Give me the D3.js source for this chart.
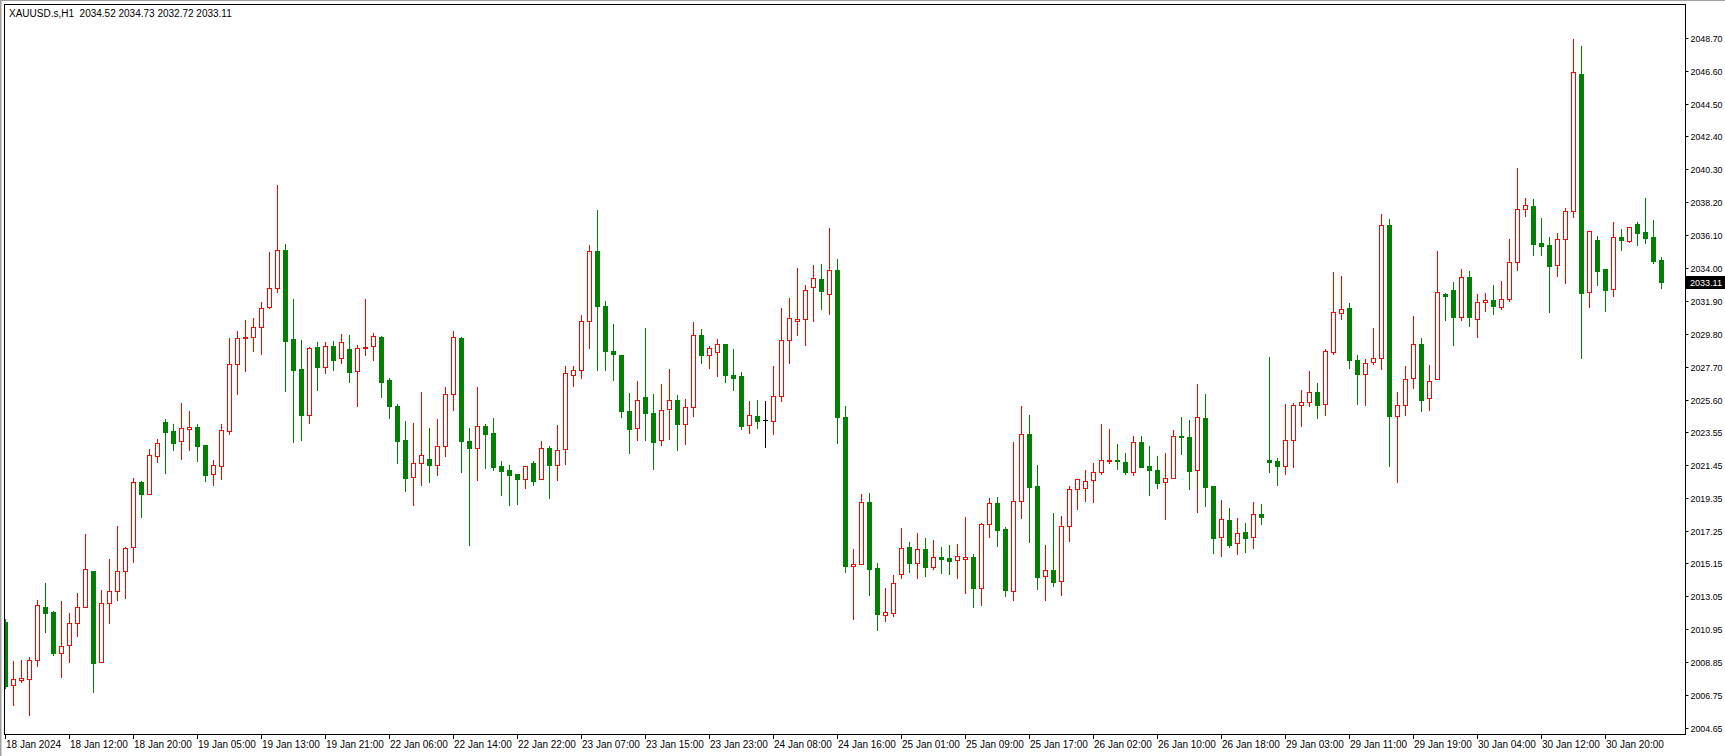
<!DOCTYPE html>
<html>
<head>
<meta charset="utf-8">
<script src="https://cdn.jsdelivr.net/npm/d3@7"></script>
<style>
  html, body { margin: 0; padding: 0; background: #fff; }
  svg { display: block; }
  .axis text { font-family: "Liberation Sans", Arial, sans-serif; font-size: 10px; fill: #000; }
  .axis.price text { font-size: 9.5px; }
</style>
</head>
<body>
<svg id="chart" width="1725" height="756"></svg>
<script>
// XAUUSD.s H1, one entry per bar, oldest first (18 Jan 04:00 .. 31 Jan 03:00)
const opens = [
  2011.41, 2007.37, 2007.73, 2007.79, 2008.97, 2012.35, 2012.03, 2009.41, 2009.92, 2011.33,
  2012.35, 2014.66, 2008.84, 2012.60, 2013.37, 2014.64, 2016.18, 2020.35, 2019.56, 2021.99,
  2024.15, 2023.58, 2022.94, 2023.75, 2023.84, 2022.71, 2020.84, 2021.35, 2023.58, 2027.86,
  2029.53, 2029.58, 2030.22, 2031.49, 2032.71, 2035.15, 2029.47, 2027.56, 2024.64, 2028.96,
  2027.70, 2029.03, 2028.24, 2028.83, 2027.41, 2028.88, 2029.01, 2029.60, 2026.85, 2025.19,
  2023.03, 2020.64, 2021.54, 2021.81, 2021.41, 2022.62, 2025.94, 2029.51, 2022.94, 2022.50,
  2023.92, 2023.47, 2021.37, 2021.11, 2020.85, 2020.56, 2021.56, 2020.52, 2022.50, 2021.41,
  2022.43, 2027.16, 2027.47, 2030.60, 2035.10, 2031.60, 2028.70, 2028.45, 2024.88, 2023.77,
  2025.75, 2024.73, 2023.01, 2024.98, 2025.56, 2024.07, 2025.11, 2029.71, 2028.43, 2028.62,
  2029.15, 2027.18, 2027.11, 2023.96, 2024.56, 2024.28, 2024.22, 2025.81, 2029.39, 2030.64,
  2030.73, 2032.77, 2033.28, 2032.32, 2033.87, 2024.49, 2015.00, 2015.09, 2019.05, 2014.86,
  2011.88, 2012.00, 2014.49, 2016.18, 2015.20, 2016.07, 2014.94, 2015.56, 2015.50, 2015.35,
  2015.45, 2015.54, 2013.56, 2017.64, 2018.99, 2017.33, 2013.37, 2019.11, 2023.39, 2020.09,
  2014.33, 2014.71, 2014.01, 2017.52, 2019.88, 2019.94, 2020.45, 2020.96, 2021.67, 2021.75,
  2021.60, 2020.96, 2022.88, 2021.37, 2021.09, 2020.33, 2020.58, 2023.30, 2023.20, 2021.09,
  2024.43, 2020.09, 2016.81, 2017.92, 2016.43, 2017.14, 2016.81, 2018.28, 2021.75, 2021.69,
  2021.35, 2023.05, 2025.24, 2025.43, 2026.07, 2025.30, 2028.62, 2031.11, 2031.43, 2028.11,
  2027.26, 2027.98, 2028.24, 2036.73, 2024.54, 2025.24, 2026.96, 2029.15, 2025.69, 2026.90,
  2032.36, 2032.60, 2030.89, 2033.41, 2030.73, 2031.82, 2031.96, 2031.53, 2032.00, 2034.37,
  2037.77, 2037.96, 2035.62, 2035.47, 2034.17, 2035.83, 2037.62, 2046.38, 2032.45, 2035.79,
  2033.94, 2032.64, 2035.98, 2035.74, 2036.79, 2036.28, 2035.96, 2034.52
];
const highs = [
  2011.60, 2008.92, 2008.99, 2009.18, 2012.81, 2013.90, 2012.13, 2012.75, 2011.99, 2013.26,
  2017.03, 2014.66, 2013.45, 2015.43, 2017.54, 2016.19, 2020.60, 2020.41, 2022.45, 2023.09,
  2024.36, 2024.05, 2025.39, 2024.88, 2024.05, 2022.71, 2021.75, 2024.05, 2029.53, 2029.98,
  2030.68, 2030.79, 2031.83, 2035.02, 2039.30, 2035.55, 2032.02, 2029.41, 2028.98, 2029.28,
  2029.28, 2029.34, 2029.79, 2029.73, 2029.07, 2032.02, 2029.85, 2029.66, 2026.98, 2025.32,
  2024.24, 2024.11, 2026.09, 2023.79, 2024.36, 2026.41, 2029.98, 2029.58, 2023.79, 2026.41,
  2024.05, 2024.43, 2021.69, 2021.43, 2020.85, 2021.35, 2021.69, 2022.94, 2022.64, 2023.98,
  2027.75, 2027.73, 2031.00, 2035.50, 2037.70, 2031.90, 2030.43, 2028.45, 2026.03, 2026.79,
  2030.17, 2025.96, 2026.60, 2027.54, 2025.90, 2025.64, 2030.54, 2030.11, 2029.03, 2029.47,
  2029.15, 2028.83, 2027.35, 2025.51, 2025.58, 2025.51, 2027.75, 2031.45, 2032.09, 2034.00,
  2032.92, 2034.19, 2034.26, 2036.56, 2034.58, 2025.19, 2016.07, 2019.58, 2019.64, 2015.18,
  2013.60, 2014.41, 2017.41, 2016.52, 2017.09, 2016.77, 2016.64, 2016.20, 2016.33, 2016.39,
  2018.11, 2015.75, 2017.73, 2019.32, 2019.39, 2017.45, 2022.90, 2025.19, 2024.62, 2021.43,
  2016.31, 2018.35, 2018.17, 2020.07, 2020.52, 2021.11, 2021.54, 2024.05, 2023.73, 2022.77,
  2022.20, 2023.28, 2023.28, 2022.64, 2021.98, 2022.20, 2023.66, 2024.49, 2024.30, 2026.60,
  2025.96, 2020.09, 2019.20, 2018.69, 2018.05, 2017.73, 2019.07, 2018.94, 2028.30, 2021.88,
  2025.32, 2025.39, 2026.22, 2027.43, 2026.66, 2028.83, 2033.73, 2033.49, 2031.75, 2028.43,
  2028.18, 2030.15, 2037.45, 2037.13, 2026.09, 2027.77, 2030.94, 2029.53, 2027.81, 2035.09,
  2032.41, 2033.11, 2033.94, 2033.81, 2032.34, 2032.41, 2032.92, 2033.17, 2035.85, 2040.38,
  2038.50, 2038.40, 2037.21, 2035.98, 2036.24, 2037.81, 2048.60, 2048.17, 2036.36, 2036.04,
  2033.94, 2036.96, 2036.49, 2036.62, 2036.96, 2038.49, 2037.07, 2034.73
];
const lows = [
  2007.22, 2006.13, 2007.60, 2005.50, 2008.62, 2010.79, 2009.32, 2007.92, 2008.88, 2010.54,
  2012.35, 2006.96, 2008.84, 2011.37, 2012.83, 2012.96, 2015.26, 2018.13, 2019.56, 2021.64,
  2020.94, 2022.41, 2021.83, 2022.41, 2021.70, 2020.43, 2020.17, 2020.55, 2023.39, 2025.96,
  2027.45, 2028.72, 2028.53, 2031.43, 2032.49, 2026.15, 2022.92, 2023.04, 2024.13, 2026.23,
  2027.32, 2027.51, 2027.96, 2026.75, 2025.21, 2028.47, 2028.15, 2025.79, 2024.45, 2021.58,
  2019.79, 2018.90, 2020.17, 2020.36, 2020.81, 2022.02, 2024.96, 2021.00, 2016.35, 2020.49,
  2021.26, 2021.13, 2019.53, 2018.90, 2018.96, 2019.98, 2020.17, 2020.52, 2019.34, 2020.49,
  2021.51, 2026.49, 2027.00, 2028.92, 2027.51, 2027.51, 2026.87, 2024.51, 2022.21, 2023.05,
  2023.05, 2021.19, 2022.73, 2023.11, 2022.41, 2022.79, 2024.58, 2027.96, 2027.64, 2027.13,
  2026.75, 2026.23, 2023.75, 2023.49, 2023.81, 2022.60, 2023.43, 2025.53, 2027.96, 2029.74,
  2029.11, 2030.64, 2031.41, 2031.09, 2022.85, 2014.62, 2011.62, 2015.09, 2013.13, 2010.90,
  2011.47, 2011.79, 2014.22, 2014.60, 2014.24, 2014.37, 2014.81, 2014.56, 2014.49, 2014.24,
  2013.28, 2012.39, 2012.52, 2016.85, 2016.28, 2013.09, 2012.83, 2018.07, 2016.53, 2013.54,
  2012.83, 2013.73, 2013.15, 2016.60, 2018.64, 2019.15, 2019.09, 2020.84, 2021.54, 2021.16,
  2020.86, 2020.81, 2021.32, 2019.53, 2019.98, 2018.00, 2020.58, 2022.15, 2019.92, 2018.45,
  2018.83, 2015.83, 2015.64, 2016.22, 2015.77, 2015.90, 2016.15, 2017.68, 2021.00, 2020.15,
  2020.87, 2021.32, 2023.94, 2025.21, 2024.45, 2024.64, 2028.53, 2030.77, 2027.64, 2025.34,
  2025.28, 2027.89, 2027.58, 2021.39, 2020.33, 2024.62, 2026.36, 2024.88, 2024.96, 2026.90,
  2030.70, 2029.11, 2030.70, 2030.32, 2029.62, 2031.28, 2031.09, 2031.41, 2031.92, 2033.89,
  2037.30, 2034.85, 2034.85, 2031.21, 2033.47, 2033.06, 2037.24, 2028.28, 2031.53, 2032.92,
  2031.28, 2032.20, 2035.17, 2035.68, 2035.47, 2035.62, 2034.34, 2032.72
];
const closes = [
  2007.35, 2007.75, 2007.84, 2008.97, 2012.48, 2012.00, 2009.45, 2009.86, 2011.33, 2012.35,
  2014.77, 2008.81, 2012.60, 2013.37, 2014.64, 2016.11, 2020.35, 2019.56, 2022.05, 2022.82,
  2023.55, 2022.86, 2023.77, 2023.84, 2022.66, 2020.81, 2021.41, 2023.64, 2027.86, 2029.51,
  2029.58, 2030.22, 2031.43, 2032.71, 2035.13, 2029.36, 2027.51, 2024.64, 2028.90, 2027.70,
  2029.03, 2028.15, 2029.26, 2027.38, 2028.90, 2028.96, 2029.64, 2026.75, 2025.21, 2022.98,
  2020.62, 2021.54, 2022.05, 2021.45, 2022.62, 2025.94, 2029.58, 2022.98, 2022.50, 2023.90,
  2023.43, 2021.32, 2021.07, 2020.81, 2020.56, 2021.35, 2020.43, 2022.50, 2021.45, 2022.37,
  2027.28, 2027.47, 2030.60, 2035.10, 2031.60, 2028.72, 2028.53, 2024.89, 2023.75, 2025.56,
  2024.77, 2022.92, 2024.92, 2025.56, 2024.07, 2025.11, 2029.71, 2028.47, 2028.88, 2029.13,
  2027.19, 2027.00, 2023.94, 2024.60, 2024.26, 2024.28, 2025.81, 2029.39, 2030.79, 2030.75,
  2032.58, 2033.35, 2032.52, 2033.86, 2024.47, 2015.00, 2015.09, 2019.05, 2014.81, 2011.94,
  2012.03, 2013.88, 2016.11, 2015.20, 2016.05, 2014.94, 2015.54, 2015.45, 2015.32, 2015.60,
  2015.54, 2013.56, 2017.64, 2018.99, 2017.30, 2013.47, 2019.11, 2023.39, 2020.05, 2014.30,
  2014.71, 2013.98, 2017.52, 2019.88, 2020.52, 2020.39, 2020.96, 2021.73, 2021.75, 2021.67,
  2020.96, 2022.88, 2021.32, 2021.13, 2020.30, 2020.58, 2023.26, 2023.22, 2021.07, 2024.47,
  2020.05, 2016.79, 2017.98, 2016.35, 2017.07, 2016.79, 2018.28, 2018.13, 2021.64, 2021.39,
  2023.01, 2025.24, 2025.43, 2026.07, 2025.28, 2028.69, 2031.17, 2031.37, 2028.15, 2027.26,
  2027.96, 2028.24, 2036.73, 2024.54, 2025.24, 2026.92, 2029.13, 2025.60, 2026.77, 2032.45,
  2032.23, 2030.89, 2033.41, 2030.89, 2031.82, 2031.94, 2031.60, 2032.00, 2034.37, 2037.77,
  2038.00, 2035.55, 2035.42, 2034.15, 2035.83, 2037.62, 2046.49, 2032.43, 2036.36, 2033.83,
  2032.62, 2035.96, 2035.81, 2036.62, 2036.26, 2035.94, 2034.47, 2033.11
];

const priceTicks = [
  "2048.70", "2046.60", "2044.50", "2042.40", "2040.30", "2038.20", "2036.10", "2034.00",
  "2031.90", "2029.80", "2027.70", "2025.60", "2023.55", "2021.45", "2019.35", "2017.25",
  "2015.15", "2013.05", "2010.95", "2008.85", "2006.75", "2004.65"
];
// one label every 8 bars, starting at the first bar
const timeLabels = [
  "18 Jan 2024", "18 Jan 12:00", "18 Jan 20:00", "19 Jan 05:00", "19 Jan 13:00", "19 Jan 21:00",
  "22 Jan 06:00", "22 Jan 14:00", "22 Jan 22:00", "23 Jan 07:00", "23 Jan 15:00", "23 Jan 23:00",
  "24 Jan 08:00", "24 Jan 16:00", "25 Jan 01:00", "25 Jan 09:00", "25 Jan 17:00", "26 Jan 02:00",
  "26 Jan 10:00", "26 Jan 18:00", "29 Jan 03:00", "29 Jan 11:00", "29 Jan 19:00", "30 Jan 04:00",
  "30 Jan 12:00", "30 Jan 20:00"
];
const labelStep = 8;
const symbolTitle = "XAUUSD.s,H1";

const W = 1725, H = 756;
const plot = { left: 4, top: 4, right: 1685, bottom: 734 };
const barPitch = 8;
const priceLabelWidth = 32;

const svg = d3.select("#chart");

let bars = opens.map(function(o, i) {
  return { i: i, o: o, h: highs[i], l: lows[i], c: closes[i] };
});

// window frame
svg.append("rect").attr("x", 0).attr("y", 0).attr("width", W).attr("height", H).attr("fill", "#fff");
svg.append("line").attr("x1", 0.5).attr("x2", 0.5).attr("y1", 0).attr("y2", H)
  .attr("stroke", "#a0a0a0").attr("stroke-width", 2);
svg.append("line").attr("x1", 0).attr("x2", W).attr("y1", 0.5).attr("y2", 0.5)
  .attr("stroke", "#a0a0a0");

let x = d3.scaleBand()
  .domain(bars.map(d => d.i))
  .range([1.3, 1.3 + barPitch * bars.length]);

let y = d3.scaleLinear()
  .domain([2004.65, 2048.70])
  .range([728.0, 37.7]);

function cx(i) {
  return Math.round(x(i) + x.bandwidth() / 2);
}

svg.append("clipPath").attr("id", "plotclip")
  .append("rect")
  .attr("x", plot.left + 1).attr("y", plot.top + 1)
  .attr("width", plot.right - plot.left - 1)
  .attr("height", plot.bottom - plot.top - 1);

let g = svg.append("g").attr("clip-path", "url(#plotclip)");

function colorOf(d) {
  if (d.c > d.o) return "#ff0000";
  if (d.c < d.o) return "#008000";
  return "#000000";
}

// wicks
g.selectAll("line.wick")
  .data(bars)
  .enter()
  .append("line")
  .attr("class", "wick")
  .attr("x1", d => cx(d.i) + 0.5)
  .attr("x2", d => cx(d.i) + 0.5)
  .attr("y1", d => Math.round(y(d.h)))
  .attr("y2", d => Math.round(y(d.l)) + 1)
  .attr("stroke", colorOf)
  .attr("stroke-width", 1);

// bodies
g.selectAll("rect.body")
  .data(bars)
  .enter()
  .append("rect")
  .attr("class", "body")
  .attr("x", function(d) {
    return d.c > d.o ? cx(d.i) - 1.5 : cx(d.i) - 2;
  })
  .attr("y", function(d) {
    let top = Math.round(y(Math.max(d.o, d.c)));
    return d.c > d.o ? top + 0.5 : top;
  })
  .attr("width", d => (d.c > d.o ? 4 : 5))
  .attr("height", function(d) {
    let top = Math.round(y(Math.max(d.o, d.c)));
    let bot = Math.round(y(Math.min(d.o, d.c)));
    if (d.c > d.o) return Math.max(bot - top, 1);
    return Math.max(bot - top + 1, 1);
  })
  .attr("fill", d => (d.c > d.o ? "#fff" : d.c < d.o ? "#008000" : "none"))
  .attr("stroke", d => (d.c > d.o ? "#ff0000" : "none"))
  .attr("stroke-width", 1);

// dojis: short horizontal dash
g.selectAll("line.doji")
  .data(bars.filter(d => d.c === d.o))
  .enter()
  .append("line")
  .attr("class", "doji")
  .attr("x1", d => cx(d.i) - 2)
  .attr("x2", d => cx(d.i) + 3)
  .attr("y1", d => Math.round(y(d.c)) + 0.5)
  .attr("y2", d => Math.round(y(d.c)) + 0.5)
  .attr("stroke", "#000");

// plot border
svg.append("rect")
  .attr("x", plot.left + 0.5).attr("y", plot.top + 0.5)
  .attr("width", plot.right - plot.left)
  .attr("height", plot.bottom - plot.top)
  .attr("fill", "none")
  .attr("stroke", "#000");

// price axis on the right
let yAxis = d3.axisRight(y)
  .tickValues(priceTicks.map(Number))
  .tickFormat((v, i) => priceTicks[i])
  .tickSize(3)
  .tickPadding(2);

let ya = svg.append("g")
  .attr("class", "axis price")
  .attr("transform", "translate(" + (plot.right + 0.5) + ",0)")
  .call(yAxis);
ya.select(".domain").remove();
ya.selectAll(".tick line").attr("stroke", "#000");
ya.selectAll(".tick").attr("transform", function(v) {
  return "translate(0," + (Math.round(y(v)) + 0.5) + ")";
});
ya.selectAll(".tick text")
  .attr("textLength", priceLabelWidth)
  .attr("lengthAdjust", "spacingAndGlyphs");

// last price marker
let last = bars[bars.length - 1];
let ly = Math.round(y(last.c));
svg.append("rect")
  .attr("x", plot.right + 1).attr("y", ly - 6)
  .attr("width", W - plot.right - 1).attr("height", 13)
  .attr("fill", "#000");
svg.append("text")
  .attr("x", plot.right + 5).attr("y", ly + 4)
  .style("font-family", "Liberation Sans, Arial, sans-serif")
  .style("font-size", "9.5px")
  .attr("textLength", priceLabelWidth)
  .attr("lengthAdjust", "spacingAndGlyphs")
  .attr("fill", "#fff")
  .text(last.c.toFixed(2));

// time axis
let xt = svg.append("g").attr("class", "axis");
let tickIdx = timeLabels.map((t, k) => k * labelStep);
xt.selectAll("line")
  .data(tickIdx)
  .enter()
  .append("line")
  .attr("x1", d => cx(d) + 0.5)
  .attr("x2", d => cx(d) + 0.5)
  .attr("y1", plot.bottom + 1)
  .attr("y2", plot.bottom + 5)
  .attr("stroke", "#000");
xt.selectAll("text")
  .data(tickIdx)
  .enter()
  .append("text")
  .attr("x", d => cx(d) + 1)
  .attr("y", plot.bottom + 14)
  .text((d, k) => timeLabels[k]);

// header
svg.append("text")
  .attr("x", 9).attr("y", 17)
  .attr("xml:space", "preserve")
  .style("white-space", "pre")
  .style("font-family", "Liberation Sans, Arial, sans-serif")
  .style("font-size", "10px")
  .text(symbolTitle + "  " + [last.o, last.h, last.l, last.c].map(v => v.toFixed(2)).join(" "));
</script>
</body>
</html>
